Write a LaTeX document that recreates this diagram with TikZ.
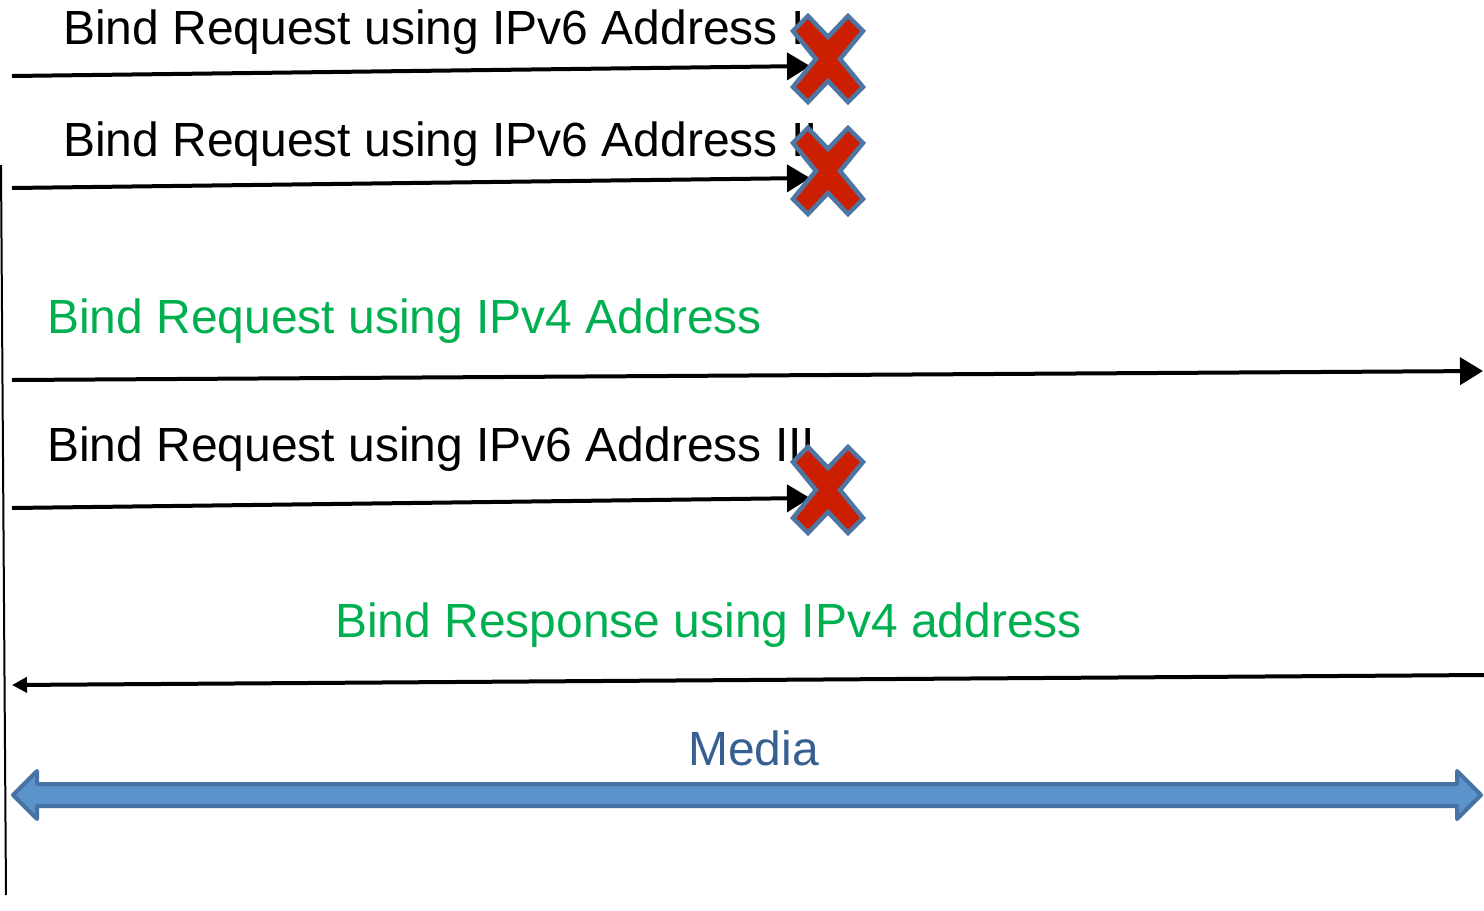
\documentclass[tikz,border=0pt]{standalone}
\usepackage{fontspec}
\setmainfont{Liberation Sans}
\usetikzlibrary{arrows.meta}
\definecolor{okgreen}{HTML}{00B050}
\definecolor{mediablue}{HTML}{376092}
\definecolor{arrowfill}{HTML}{5B93CA}
\definecolor{arrowedge}{HTML}{4672A4}
\definecolor{xred}{HTML}{CC1E00}
\definecolor{xedge}{HTML}{4E76A3}
\tikzset{
  msg/.style={line width=0.08cm, -{Triangle[length=0.46cm,width=0.54cm]}},
  lbl/.style={anchor=base west, inner sep=0pt, font=\fontsize{27.3}{33}\selectfont},
  cross/.style={fill=xred, draw=xedge, line width=0.09cm, line join=miter}
}
\begin{document}
\begin{tikzpicture}[x=0.02cm, y=-0.02cm]
\useasboundingbox (0,0) rectangle (1484,910);

\coordinate (lifetop) at (1,165);
\coordinate (lifebot) at (6,895);
\coordinate (s1) at (12,76);   \coordinate (e1) at (810,66);
\coordinate (s2) at (12,188);  \coordinate (e2) at (810,178);
\coordinate (s3) at (12,380);  \coordinate (e3) at (1483,371);
\coordinate (s4) at (12,508);  \coordinate (e4) at (810,498);
\coordinate (s5) at (12,685);  \coordinate (e5) at (1484,675);

\draw[line width=0.04cm] (lifetop) -- (lifebot);

\node[lbl] (req1) at (63,44) {Bind Request using IPv6 Address I};
\node[lbl] (req2) at (63,156) {Bind Request using IPv6 Address II};
\node[lbl, text=okgreen] (req4) at (47,333) {Bind Request using IPv4 Address};
\node[lbl] (req3) at (47,461) {Bind Request using IPv6 Address III};
\node[lbl, text=okgreen] (resp4) at (335,637) {Bind Response using IPv4 address};
\node[lbl, text=mediablue] (media) at (688,765) {Media};

\draw[msg] (s1) -- (e1);
\draw[msg] (s2) -- (e2);
\draw[msg] (s3) -- (e3);
\draw[msg] (s4) -- (e4);
\draw[line width=0.08cm, {Triangle[length=0.3cm,width=0.3cm]}-] (s5) -- (e5);

% failed requests
\foreach \cx/\cy in {828/59, 828/171, 828/490}
  \draw[cross, shift={(\cx,\cy)}] (0,-22) -- (20,-43) -- (35,-28) -- (12,0) -- (35,28)
    -- (20,43) -- (0,22) -- (-20,43) -- (-35,28) -- (-12,0) -- (-35,-28) -- (-20,-43) -- cycle;

\draw[fill=arrowfill, draw=arrowedge, line width=0.08cm, line join=round]
  (13,795) -- (37,771) -- (37,784) -- (1457,784) -- (1457,771) -- (1481,795)
  -- (1457,819) -- (1457,806) -- (37,806) -- (37,819) -- cycle;

\end{tikzpicture}
\end{document}
